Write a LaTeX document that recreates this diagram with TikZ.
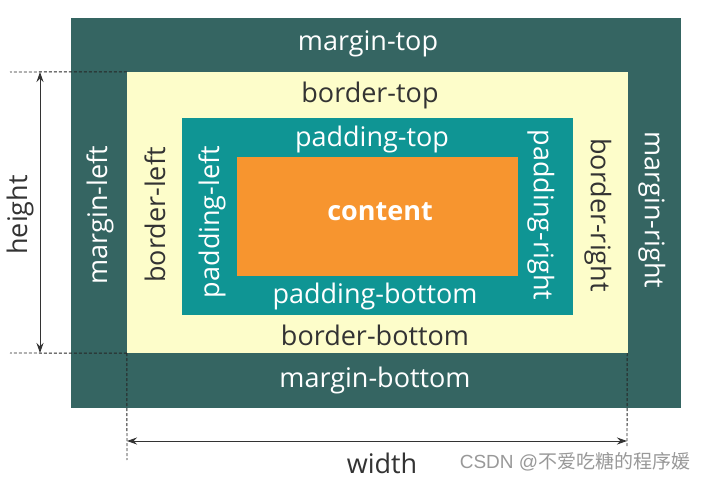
\documentclass[tikz,border=0pt]{standalone}
\usepackage{fontspec}
\setmainfont{Open Sans}
\newfontfamily\cjkfont{Noto Sans CJK SC}
\newfontfamily\wmfont{Liberation Sans}
\usetikzlibrary{arrows.meta}
\definecolor{marginc}{HTML}{356562}
\definecolor{borderc}{HTML}{FDFDCA}
\definecolor{paddingc}{HTML}{0F9594}
\definecolor{contentc}{HTML}{F7952F}
\definecolor{darktext}{HTML}{333333}
\tikzset{
  boxshape/.style={rectangle,inner sep=0pt,draw=none},
  lbl/.style={font=\fontsize{27}{30}\selectfont,inner sep=0pt},
  wlbl/.style={lbl,text=white},
  dlbl/.style={lbl,text=darktext},
  dimline/.style={draw=black!80,line width=0.9pt,{Stealth[length=10pt,width=7pt]}-{Stealth[length=10pt,width=7pt]}},
  guide/.style={draw=black!85,line width=0.9pt,dash pattern=on 3pt off 2pt}
}
\begin{document}
\begin{tikzpicture}[x=1pt,y=-1pt]
\useasboundingbox (0,0) rectangle (705,481);
\fill[white] (0,0) rectangle (705,481);
\node[boxshape,fill=marginc,minimum width=610pt,minimum height=390pt] (margin) at (376,213) {};
\node[boxshape,fill=borderc,minimum width=501pt,minimum height=281pt] (border) at (377.5,212.5) {};
\node[boxshape,fill=paddingc,minimum width=391pt,minimum height=197pt] (padding) at (377.5,216.5) {};
\node[boxshape,fill=contentc,minimum width=281pt,minimum height=119pt] (content) at (377.5,216.5) {};

\node[wlbl] (mt) at (368,44) {margin-top};
\node[dlbl] (bt) at (370,95) {border-top};
\node[wlbl] (pt) at (372,139) {padding-top};
\node[wlbl,font=\fontsize{27}{30}\selectfont\bfseries] (ct) at (380,212) {content};
\node[wlbl] (pb) at (375,296) {padding-bottom};
\node[dlbl] (bb) at (375,335) {border-bottom};
\node[wlbl] (mb) at (375,380) {margin-bottom};
\node[wlbl,rotate=90] (ml) at (100,215) {margin-left};
\node[dlbl,rotate=90] (bl) at (155,215) {border-left};
\node[wlbl,rotate=90] (pl) at (212,222) {padding-left};
\node[wlbl,rotate=-90] (pr) at (541,215) {padding-right};
\node[dlbl,rotate=-90] (br) at (598,215) {border-right};
\node[wlbl,rotate=-90] (mr) at (652,210) {margin-right};

% guides
\coordinate (hT) at (10,72);
\coordinate (hB) at (10,353);
\coordinate (wL) at (127,460);
\coordinate (wR) at (627,447);
\draw[guide] (border.north west) -- (hT);
\draw[guide] (border.south west) -- (hB);
\draw[guide] (border.south west) -- (wL);
\draw[guide] ([xshift=-1pt]border.south east) -- (wR);

\coordinate (ha) at (40,72);
\coordinate (hb) at (40,353);
\coordinate (wa) at (127,441);
\coordinate (wb) at (627,441);
\draw[dimline] (ha) -- (hb);
\draw[dimline] (wa) -- (wb);
\node[dlbl,rotate=90] (height) at (20,215) {height};
\node[dlbl] (width) at (382,463) {width};
\node[text=black!40,font=\fontsize{19}{22}\selectfont,inner sep=0pt] (wm) at (575,462) {\wmfont CSDN @{\cjkfont 不爱吃糖的程序媛}};
\end{tikzpicture}
\end{document}
